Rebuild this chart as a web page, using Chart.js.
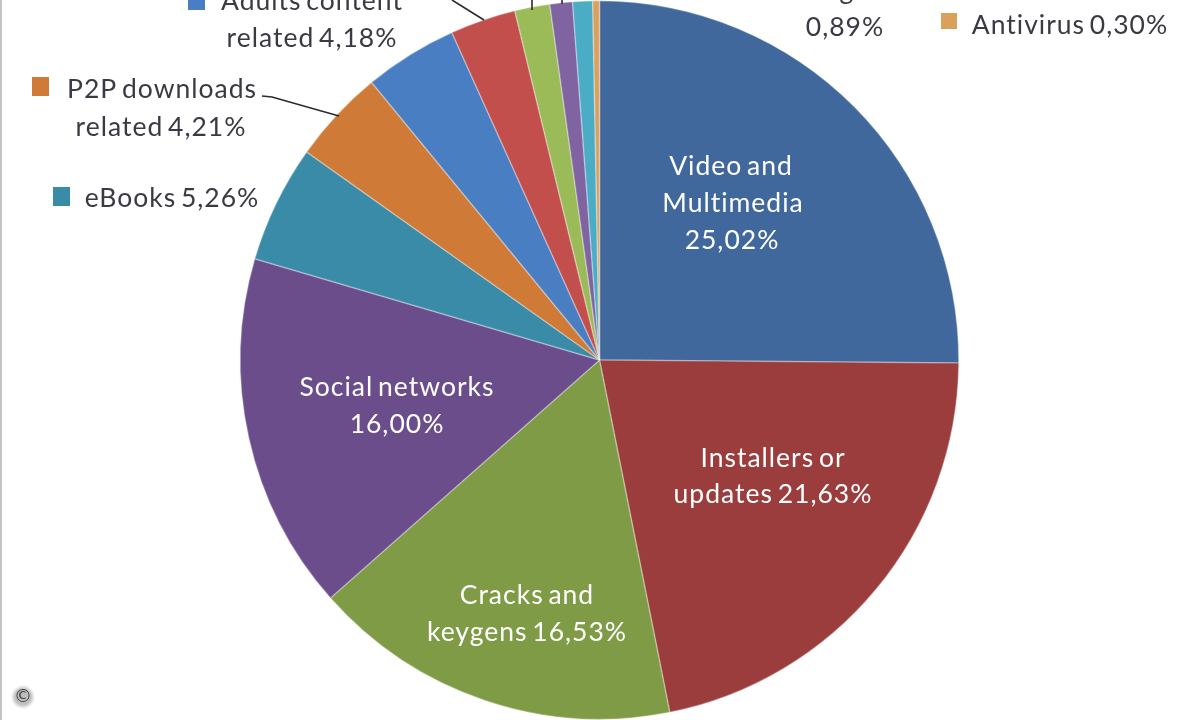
<!DOCTYPE html>
<html>
<head>
<meta charset="utf-8">
<title>Download categories</title>
<script src="https://cdn.jsdelivr.net/npm/chart.js@4"></script>
<style>
  html, body { margin: 0; padding: 0; background: #fff; overflow: hidden; }
  canvas { display: block; }
</style>
</head>
<body>
<canvas id="pie" width="1199" height="720"></canvas>
<script>
// slices clockwise from 12 o'clock. the names of the four thin slices are cropped off the top
const categories = ["Video and Multimedia", "Installers or updates", "Cracks and keygens", "Social networks",
  "eBooks", "P2P downloads related", "Adults content related", "", "", "", "", "Antivirus"]
// the last ones without a printed value (indexes 7, 8, 9) are estimated from the wedge sizes
const shares = [25.02, 21.63, 16.53, 16.00, 5.26, 4.21, 4.18, 2.94, 1.57, 1.01, 0.89, 0.30]
const colors = ["#41689c", "#9b3d3c", "#7f9b46", "#6a4d8a", "#3a8ba8", "#cf7a36",
  "#4a7ec2", "#c24f4c", "#9bbb59", "#8064a2", "#4bacc6", "#dca05e"]

const FONT = '26.5px Lato, "Open Sans", sans-serif'
const DARK = "#3a3a44"

// text, x centre, y centre, colour
const labels = [
  ["Video and", 731, 166, "#fff"],
  ["Multimedia", 733, 203, "#fff"],
  ["25,02%", 732, 240, "#fff"],
  ["Installers or", 773, 458, "#fff"],
  ["updates 21,63%", 773, 494, "#fff"],
  ["Cracks and", 527, 595, "#fff"],
  ["keygens 16,53%", 527, 632, "#fff"],
  ["Social networks", 397, 387, "#fff"],
  ["16,00%", 397, 424, "#fff"],
  ["eBooks 5,26%", 172, 198, DARK],
  ["P2P downloads", 162, 89, DARK],
  ["related 4,21%", 161, 127, DARK],
  ["Adults content", 312, 1, DARK],
  ["related 4,18%", 312, 38, DARK],
  ["g", 847, -10, DARK],
  ["0,89%", 845, 27, DARK],
  ["Antivirus 0,30%", 1070, 25, DARK],
]

// swatch x, y, w, h, index of the slice it belongs to
const swatches = [
  [53, 187, 17, 19, 4],
  [32, 77, 17, 19, 5],
  [188, -9, 17, 19, 6],
  [941, 13, 16, 16, 11],
]

const leaders = [
  [[262, 96], [272, 97], [339, 116]],
  [[452, 0], [484, 20]],
  [[532, 0], [532, 10]],
  [[562, 0], [562, 4]],
]

const annotations = {
  id: "annotations",
  afterDatasetsDraw(chart) {
    const ctx = chart.ctx
    ctx.save()
    ctx.strokeStyle = "#2b2b2b"
    ctx.lineWidth = 1.6
    leaders.forEach(pts => {
      ctx.beginPath()
      pts.forEach(([x, y], i) => (i ? ctx.lineTo(x, y) : ctx.moveTo(x, y)))
      ctx.stroke()
    })
    swatches.forEach(([x, y, w, h, i]) => {
      ctx.fillStyle = colors[i]
      ctx.fillRect(x, y, w, h)
    })
    ctx.font = FONT
    ctx.letterSpacing = "1px"
    ctx.wordSpacing = "-3px"
    ctx.textAlign = "center"
    ctx.textBaseline = "middle"
    ctx.filter = "blur(0.5px)"
    labels.forEach(([t, x, y, c]) => {
      ctx.fillStyle = c
      ctx.fillText(t, x, y)
    })
    ctx.filter = "none"
    ctx.letterSpacing = "0px"
    ctx.wordSpacing = "0px"
    // frame edge on the left and the copyright mark
    ctx.fillStyle = "#c4c4c4"
    ctx.fillRect(0, 0, 2, 720)
    ctx.filter = "blur(1.5px)"
    ctx.fillStyle = "#bdbdbd"
    ctx.beginPath()
    ctx.arc(23, 697, 10, 0, Math.PI * 2)
    ctx.fill()
    ctx.filter = "blur(0.4px)"
    ctx.fillStyle = "#444"
    ctx.font = "18px 'DejaVu Sans'"
    ctx.fillText("©", 23, 697)
    ctx.restore()
  },
}

new Chart(document.getElementById("pie"), {
  type: "pie",
  data: {
    labels: categories,
    datasets: [{
      data: shares,
      backgroundColor: colors,
      borderColor: "rgba(255,255,255,0.3)",
      borderWidth: 1.5,
    }],
  },
  options: {
    responsive: false,
    animation: false,
    devicePixelRatio: 1,
    layout: { padding: 0 },
    plugins: { legend: { display: false }, tooltip: { enabled: false } },
  },
  plugins: [annotations],
})
</script>
</body>
</html>
